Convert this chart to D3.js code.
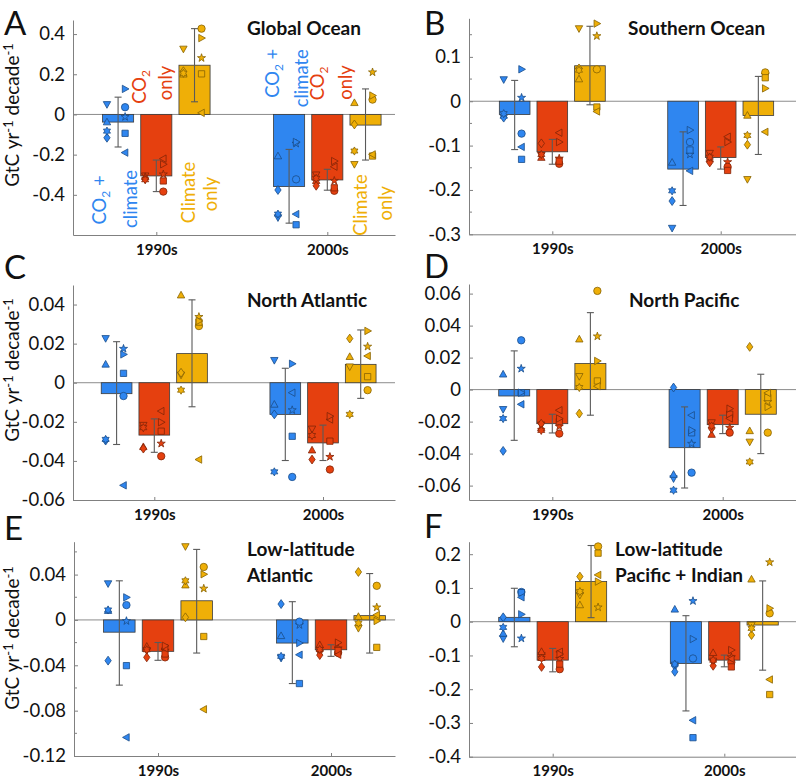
<!DOCTYPE html>
<html><head><meta charset="utf-8">
<script src="https://cdn.jsdelivr.net/npm/d3@7"></script>
<style>
body{margin:0;background:#fff}
svg{display:block}
text{font-family:Lato,"Open Sans",sans-serif}
</style>
</head><body>
<svg id="chart" width="796" height="780"></svg>
<script>
// ---------------- DATA ----------------
const periods = ["1990s", "2000s"];
const experiments = ["CO2 + climate", "CO2 only", "Climate only"];
const expColors = ["#2f86f0", "#e5400f", "#efaf07"];
// model marker shapes; first four drawn in the left column, last five in the right column
const modelShapes = ["v", "^", "d", "h", "p", "o", "s", "<", ">"];
const panelLetters = ["A", "B", "C", "D", "E", "F"];
const panelTitles = [["Global Ocean"], ["Southern Ocean"], ["North Atlantic"], ["North Pacific"],
  ["Low-latitude", "Atlantic"], ["Low-latitude", "Pacific + Indian"]];

// y tick values per panel
const ticksA = [-0.4, -0.2, 0, 0.2, 0.4];
const ticksB = [-0.3, -0.2, -0.1, 0, 0.1];
const ticksC = [-0.06, -0.04, -0.02, 0, 0.02, 0.04];
const ticksD = [-0.06, -0.04, -0.02, 0, 0.02, 0.04, 0.06];
const ticksE = [-0.12, -0.08, -0.04, 0, 0.04];
const ticksF = [-0.4, -0.3, -0.2, -0.1, 0, 0.1, 0.2];
const minorB = [-0.25, -0.15, -0.05, 0.05, 0.15];
const minorE = [-0.1, -0.06, -0.02, 0.02, 0.06];
const yLimits = [[-0.6, 0.47], [-0.3, 0.187], [-0.06, 0.05], [-0.069, 0.066], [-0.12, 0.069], [-0.4, 0.237]];

// bar values [period][experiment]
const barsA = [[-0.038, -0.306, 0.245], [-0.359, -0.326, -0.053]];
const barsB = [[-0.030, -0.114, 0.080], [-0.153, -0.127, -0.032]];
const barsC = [[-0.0056, -0.0268, 0.0149], [-0.0162, -0.0308, 0.0094]];
const barsD = [[-0.0040, -0.0213, 0.0163], [-0.0363, -0.0219, -0.0154]];
const barsE = [[-0.0108, -0.0277, 0.0169], [-0.0204, -0.0263, 0.0038]];
const barsF = [[0.0129, -0.1139, 0.1188], [-0.1238, -0.1139, -0.0099]];

// error bars [period][experiment] = [low, high]
const errA = [[[-0.162, 0.086], [-0.384, -0.227], [0.063, 0.427]], [[-0.541, -0.174], [-0.377, -0.273], [-0.227, 0.127]]];
const errB = [[[-0.109, 0.047], [-0.142, -0.086], [-0.008, 0.169]], [[-0.235, -0.069], [-0.153, -0.103], [-0.120, 0.056]]];
const errC = [[[-0.0316, 0.0210], [-0.0356, -0.0185], [-0.0123, 0.0424]], [[-0.0398, 0.0074], [-0.0398, -0.0217], [-0.0080, 0.0270]]];
const errD = [[[-0.0317, 0.0242], [-0.0271, -0.0154], [-0.0160, 0.0481]], [[-0.0615, -0.0108], [-0.0275, -0.0160], [-0.0400, 0.0096]]];
const errE = [[[-0.0575, 0.0345], [-0.0356, -0.0199], [-0.0292, 0.0622]], [[-0.0561, 0.0161], [-0.0321, -0.0219], [-0.0292, 0.0409]]];
const errF = [[[-0.0743, 0.0990], [-0.1485, -0.0792], [0.0119, 0.2257]], [[-0.2644, 0.0178], [-0.1337, -0.0990], [-0.1436, 0.1208]]];

// individual models [period][experiment][model in modelShapes order]
const modelsA = [
  [[0.05, -0.038, -0.116, -0.083, -0.012, 0.036, -0.094, -0.19, 0.127],
   [-0.305, -0.31, -0.32, -0.325, -0.298, -0.384, -0.331, -0.22, -0.248],
   [0.326, 0.2, 0.215, 0.205, 0.281, 0.427, 0.202, 0.008, 0.38]],
  [[-0.513, -0.207, -0.376, -0.496, -0.145, -0.323, -0.549, -0.496, -0.137],
   [-0.30, -0.33, -0.355, -0.318, -0.33, -0.38, -0.365, -0.26, -0.232],
   [-0.248, 0.058, -0.05, -0.182, 0.21, 0.074, -0.207, -0.199, 0.094]]];
const modelsB = [
  [[0.049, -0.032, -0.037, -0.028, 0.008, -0.073, -0.131, -0.103, 0.072],
   [-0.122, -0.127, -0.095, -0.12, -0.129, -0.141, -0.135, -0.071, -0.092],
   [0.164, 0.05, 0.074, 0.07, 0.147, 0.072, -0.013, -0.023, 0.175]],
  [[-0.286, -0.138, -0.225, -0.202, -0.12, -0.092, -0.11, -0.157, -0.065],
   [-0.117, -0.13, -0.138, -0.126, -0.137, -0.148, -0.156, -0.08, -0.092],
   [-0.176, -0.032, -0.098, -0.077, 0.06, 0.065, 0.053, -0.069, 0.029]]];
const modelsC = [
  [[0.0227, 0.0094, -0.0296, -0.029, 0.0174, -0.0068, 0.0048, -0.0525, 0.0145],
   [-0.0217, -0.0328, -0.0337, -0.023, -0.0311, -0.0376, -0.0248, -0.0145, -0.0202],
   [0.004, 0.0448, 0.0051, -0.0038, 0.0337, 0.029, 0.031, -0.0393, 0.0316]],
  [[0.0115, -0.0111, -0.0162, -0.0456, -0.014, -0.0482, -0.0274, -0.0051, 0.0097],
   [-0.0236, -0.0345, -0.0393, -0.027, -0.0379, -0.0444, -0.0299, -0.0188, -0.0171],
   [0.0082, 0.0133, 0.0226, -0.0162, 0.0185, -0.0038, 0.0031, 0.0137, 0.0265]]];
const modelsD = [
  [[-0.0123, 0.0096, -0.0383, -0.0181, 0.0131, 0.0308, -0.002, -0.0092, -0.0019],
   [-0.022, -0.024, -0.0213, -0.0255, -0.023, -0.0275, -0.02, -0.0129, -0.0181],
   [0.0083, 0.0315, -0.015, 0.0013, 0.0333, 0.0617, 0.0054, 0.0021, 0.0179]],
  [[-0.0556, -0.0531, 0.0013, -0.0629, -0.0338, -0.0519, -0.027, -0.016, -0.0254],
   [-0.0206, -0.0281, -0.0244, -0.0227, -0.0238, -0.0269, -0.0154, -0.018, -0.0119],
   [-0.0327, -0.0258, 0.0267, -0.0452, -0.0077, -0.0269, -0.005, -0.0021, -0.0108]]];
const modelsE = [
  [[0.0321, 0.0082, -0.0359, 0.0088, -0.0009, 0.0131, -0.0403, -0.1036, 0.0199],
   [-0.027, -0.0234, -0.033, -0.0263, -0.027, -0.033, -0.03, -0.025, -0.0228],
   [0.0648, 0.0307, 0.0023, 0.0345, 0.0277, 0.0467, -0.0146, -0.0788, 0.0403]],
  [[-0.0336, -0.014, 0.014, -0.0321, -0.0044, -0.0015, -0.0561, -0.0307, -0.0204],
   [-0.029, -0.022, -0.031, -0.026, -0.025, -0.029, -0.027, -0.0307, -0.02],
   [-0.0073, 0.0029, 0.0423, -0.0029, 0.0111, 0.0301, -0.0242, 0.0044, -0.0009]]];
const modelsF = [
  [[-0.05, -0.035, 0.013, -0.017, -0.0495, 0.088, 0.086, 0.0723, 0.0218],
   [-0.1, -0.089, -0.134, -0.109, -0.11, -0.1406, -0.1257, -0.0891, -0.096],
   [0.079, 0.0495, 0.1337, 0.0891, 0.0426, 0.2228, 0.203, 0.1386, 0.1188]],
  [[-0.135, 0.0366, -0.1485, -0.1257, 0.0614, -0.1089, -0.3436, -0.2921, -0.0515],
   [-0.12, -0.0921, -0.1307, -0.1139, -0.105, -0.12, -0.134, -0.11, -0.084],
   [-0.0099, 0.1257, -0.0396, -0.0198, 0.1762, 0.0248, -0.2158, -0.1713, 0.0396]]];

// ---------------- LAYOUT ----------------
const layout = [
  {ax: 73, top: 20, bottom: 235, c1: 156.3, c2: 327.3, right: 395, lx: 4, ly: 35, tx: 247, ty: 35, yt: 115},
  {ax: 469, top: 18.3, bottom: 234.3, c1: 552.3, c2: 720.7, right: 796, lx: 424, ly: 35, tx: 628, ty: 35},
  {ax: 73, top: 285, bottom: 500, c1: 154.3, c2: 323, right: 395, lx: 4, ly: 279, tx: 247, ty: 306.7, yt: 370},
  {ax: 469, top: 284, bottom: 500, c1: 552.3, c2: 722.7, right: 796, lx: 424, ly: 278, tx: 629, ty: 306.7},
  {ax: 74, top: 541.7, bottom: 756, c1: 158, c2: 331, right: 395, lx: 4, ly: 540, tx: 247, ty: 556, yt: 638},
  {ax: 469, top: 541.7, bottom: 756.7, c1: 552.7, c2: 724.3, right: 796, lx: 424, ly: 538, tx: 615, ty: 556}
];
const panelData = [
  {bars: barsA, err: errA, models: modelsA, ticks: ticksA, minor: []},
  {bars: barsB, err: errB, models: modelsB, ticks: ticksB, minor: minorB},
  {bars: barsC, err: errC, models: modelsC, ticks: ticksC, minor: []},
  {bars: barsD, err: errD, models: modelsD, ticks: ticksD, minor: []},
  {bars: barsE, err: errE, models: modelsE, ticks: ticksE, minor: minorE},
  {bars: barsF, err: errF, models: modelsF, ticks: ticksF, minor: []}
];

const AXIS = "#808080";
const groupOffset = 0.2235, barW = 0.182, leftCol = -0.065, rightCol = 0.041;
const R = 3.7;

function markerPath(shape, r) {
  const star = (n, ro, ri, rot) => {
    const pts = [];
    for (let i = 0; i < 2 * n; i++) {
      const a = rot + i * Math.PI / n;
      const rr = i % 2 === 0 ? ro : ri;
      pts.push([rr * Math.sin(a), -rr * Math.cos(a)]);
    }
    return "M" + pts.map(p => p[0].toFixed(2) + "," + p[1].toFixed(2)).join("L") + "Z";
  };
  const tri = rot => {
    const pts = [[0, -r * 1.05], [r * 1.0, r * 0.75], [-r * 1.0, r * 0.75]].map(([x, y]) => {
      const c = Math.cos(rot), s = Math.sin(rot);
      return [x * c - y * s, x * s + y * c];
    });
    return "M" + pts.map(p => p[0].toFixed(2) + "," + p[1].toFixed(2)).join("L") + "Z";
  };
  switch (shape) {
    case "o": return `M${r},0A${r},${r} 0 1,1 ${-r},0A${r},${r} 0 1,1 ${r},0Z`;
    case "s": { const h = r * 0.85; return `M${-h},${-h}H${h}V${h}H${-h}Z`; }
    case "d": return `M0,${-r * 1.2}L${r * 0.85},0L0,${r * 1.2}L${-r * 0.85},0Z`;
    case "^": return tri(0);
    case "v": return tri(Math.PI);
    case ">": return tri(Math.PI / 2);
    case "<": return tri(-Math.PI / 2);
    case "p": return star(5, r * 1.15, r * 0.45, 0);
    case "h": return star(6, r * 1.1, r * 0.62, 0);
  }
}

const svg = d3.select("#chart");

panelData.forEach((pd, pi) => {
  const L = layout[pi];
  const unit = L.c2 - L.c1;
  const x = d3.scaleLinear()
    .domain([1 + (L.ax - L.c1) / unit, 1 + (L.right - L.c1) / unit])
    .range([L.ax, L.right]);
  const y = d3.scaleLinear().domain(yLimits[pi]).range([L.bottom, L.top]);
  const g = svg.append("g");

  // zero line
  g.append("line").attr("x1", L.ax).attr("x2", L.right)
    .attr("y1", y(0)).attr("y2", y(0)).attr("stroke", "#8c8c8c").attr("stroke-width", 1);

  // y axis
  const yAxis = g.append("g").attr("transform", `translate(${L.ax},0)`)
    .call(d3.axisLeft(y).tickValues(pd.ticks).tickSize(-4).tickSizeOuter(0).tickPadding(8)
      .tickFormat(v => v === 0 ? "0" : String(v)));
  yAxis.select(".domain").attr("stroke", AXIS);
  yAxis.selectAll(".tick line").attr("stroke", AXIS);
  yAxis.selectAll("text").attr("font-size", 18.5).attr("fill", "#111")
    .style("font-family", "Lato, 'Open Sans', sans-serif");
  pd.minor.forEach(v => {
    g.append("line").attr("x1", L.ax).attr("x2", L.ax + 3).attr("y1", y(v)).attr("y2", y(v))
      .attr("stroke", AXIS);
  });

  // x axis
  const xAxis = g.append("g").attr("transform", `translate(0,${L.bottom})`)
    .call(d3.axisBottom(x).tickValues([1, 2]).tickSize(-3).tickSizeOuter(0).tickPadding(9)
      .tickFormat(v => periods[v - 1]));
  xAxis.select(".domain").attr("stroke", AXIS);
  xAxis.selectAll(".tick line").attr("stroke", AXIS);
  xAxis.selectAll("text").attr("font-size", 15).attr("font-weight", "bold").attr("fill", "#111")
    .style("font-family", "Lato, 'Open Sans', sans-serif");

  periods.forEach((p, k) => {
    experiments.forEach((e, j) => {
      const cx = (k + 1) + (j - 1) * groupOffset;
      const v = pd.bars[k][j];
      const col = expColors[j];
      // bar
      g.append("rect")
        .attr("x", x(cx - barW / 2)).attr("width", x(cx + barW / 2) - x(cx - barW / 2))
        .attr("y", y(Math.max(0, v))).attr("height", Math.abs(y(v) - y(0)))
        .attr("fill", col).attr("stroke", "#3a3a3a").attr("stroke-width", 0.8);
    });
  });
  periods.forEach((p, k) => {
    experiments.forEach((e, j) => {
      const cx = (k + 1) + (j - 1) * groupOffset;
      const col = expColors[j];
      const dark = d3.color(col).darker(1.6).formatHex();
      // error bar
      const [lo, hi] = pd.err[k][j];
      const ex = x(cx);
      const eg = g.append("g").attr("stroke", "#5a5a5a").attr("stroke-width", 1.1);
      eg.append("line").attr("x1", ex).attr("x2", ex).attr("y1", y(lo)).attr("y2", y(hi));
      eg.append("line").attr("x1", ex - 3.5).attr("x2", ex + 3.5).attr("y1", y(lo)).attr("y2", y(lo));
      eg.append("line").attr("x1", ex - 3.5).attr("x2", ex + 3.5).attr("y1", y(hi)).attr("y2", y(hi));
      // models
      pd.models[k][j].forEach((mv, m) => {
        const mx = x(cx + (m < 4 ? leftCol : rightCol));
        g.append("path").attr("d", markerPath(modelShapes[m], R))
          .attr("transform", `translate(${mx},${y(mv)})`)
          .attr("fill", col).attr("stroke", dark).attr("stroke-width", 0.8);
      });
    });
  });

  // panel letter
  svg.append("text").attr("x", L.lx).attr("y", L.ly).attr("font-size", 33).attr("fill", "#111")
    .text(panelLetters[pi]);
  // title
  panelTitles[pi].forEach((t, i) => {
    svg.append("text").attr("x", L.tx).attr("y", L.ty + i * 25.7).attr("font-size", 19)
      .attr("font-weight", "bold").attr("fill", "#111").text(t);
  });
  // y title (left column only)
  if (L.yt !== undefined) {
    const yt = svg.append("text").attr("transform", `translate(19,${L.yt}) rotate(-90)`)
      .attr("text-anchor", "middle").attr("font-size", 19).attr("fill", "#111");
    yt.append("tspan").text("GtC yr");
    yt.append("tspan").attr("dy", -6).attr("font-size", 13).text("-1");
    yt.append("tspan").attr("dy", 6).text(" decade");
    yt.append("tspan").attr("dy", -6).attr("font-size", 13).text("-1");
  }
});

// experiment annotations in panel A
const annotations = [
  {lines: [["CO", "2", " +"], ["climate"]], color: 0, x: [106, 136.7], y: [200, 199]},
  {lines: [["CO", "2", ""], ["only"]], color: 1, x: [146, 171.7], y: [87, 83]},
  {lines: [["Climate"], ["only"]], color: 2, x: [195, 217], y: [192.5, 194]},
  {lines: [["CO", "2", " +"], ["climate"]], color: 0, x: [279, 308], y: [73.3, 78.3]},
  {lines: [["CO", "2", ""], ["only"]], color: 1, x: [323.5, 352], y: [83.3, 82.5]},
  {lines: [["Climate"], ["only"]], color: 2, x: [366.7, 392], y: [205, 203.3]}
];
annotations.forEach(a => {
  a.lines.forEach((ln, i) => {
    const t = svg.append("text").attr("transform", `translate(${a.x[i]},${a.y[i]}) rotate(-90)`)
      .attr("text-anchor", "middle").attr("font-size", 18.4).attr("fill", expColors[a.color]);
    t.append("tspan").text(ln[0]);
    if (ln.length > 1) {
      t.append("tspan").attr("dy", 4).attr("font-size", 12).text(ln[1]);
      t.append("tspan").attr("dy", -4).text(ln[2]);
    }
  });
});
</script>
</body></html>
